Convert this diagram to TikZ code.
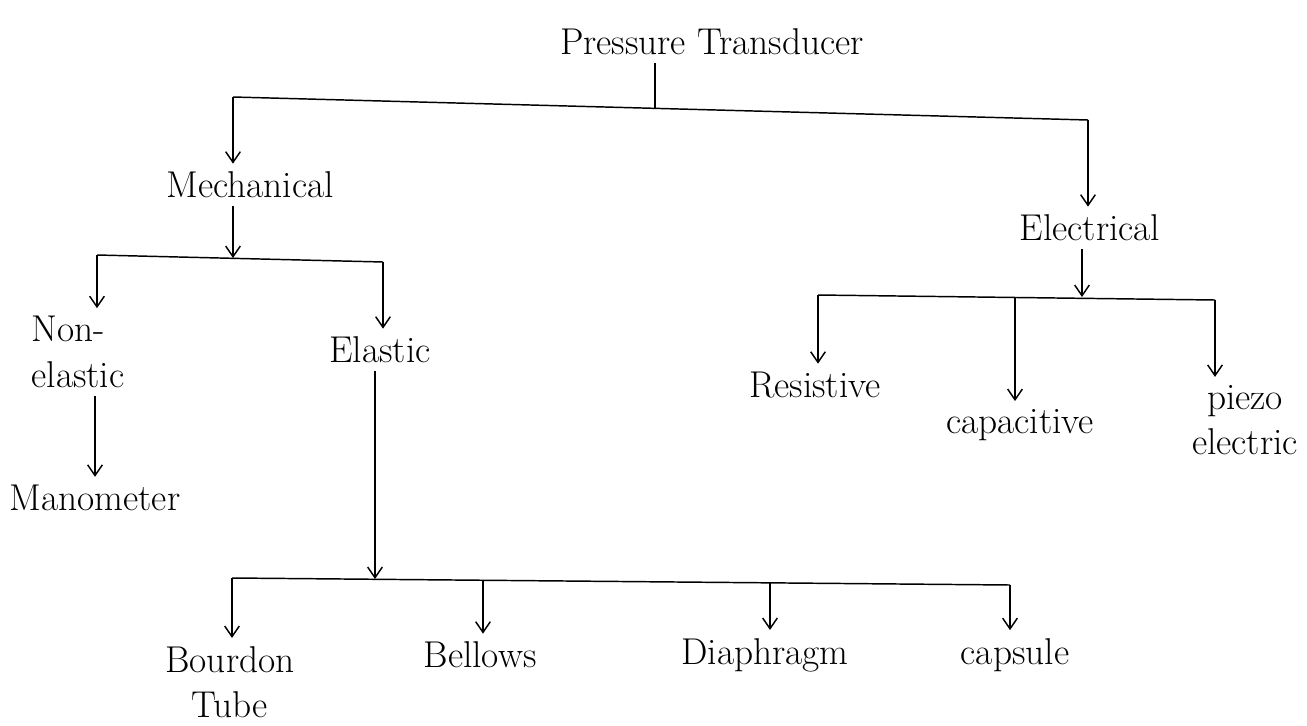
\documentclass[tikz,border=0pt]{standalone}
\usetikzlibrary{arrows.meta}
\begin{document}
\begin{tikzpicture}[x=0.75pt,y=-0.75pt,
  lbl/.style={font=\fontsize{28}{34}\selectfont, inner sep=6pt},
  wire/.style={line width=1.1pt, black},
  arr/.style={wire, -{Straight Barb[length=8pt,width=11pt]}}]
\useasboundingbox[fill=white] (0,0) rectangle (1307,725);
% nodes
\node[lbl] (pt) at (712,42) {Pressure Transducer};
\node[lbl] (mech) at (250,185) {Mechanical};
\node[lbl] (elec) at (1090,228) {Electrical};
\node[lbl, align=left] (nonel) at (78,352) {Non-\\elastic};
\node[lbl] (elas) at (380,350) {Elastic};
\node[lbl] (mano) at (95,498) {Manometer};
\node[lbl, align=center] (bour) at (230,682) {Bourdon\\Tube};
\node[lbl] (bell) at (480,655) {Bellows};
\node[lbl] (diap) at (765,655) {Diaphragm};
\node[lbl] (caps) at (1015,655) {capsule};
\node[lbl] (resi) at (815,385) {Resistive};
\node[lbl] (capa) at (1020,425) {capacitive};
\node[lbl, align=center] (piez) at (1245,420) {piezo\\electric};
% junctions
\coordinate (j0) at (655,108);
\coordinate (jL) at (233,97);
\coordinate (jR) at (1088,120);
\coordinate (jM) at (233,258);
\coordinate (jNL) at (97,255);
\coordinate (jNR) at (383,262);
\coordinate (jE) at (375,579);
\coordinate (jB1) at (232,578);
\coordinate (jB2) at (483,580);
\coordinate (jB3) at (770,583);
\coordinate (jB4) at (1010,585);
\coordinate (jEl) at (1082,297);
\coordinate (jR1) at (818,295);
\coordinate (jR2) at (1015,298);
\coordinate (jR3) at (1215,300);
% connectors
\draw[wire] (pt.south -| j0) -- (j0);
\draw[wire] (jL) -- (jR);
\draw[arr] (jL) -- (jL |- mech.north);
\draw[arr] (jR) -- (jR |- elec.north);
\draw[arr] (mech.south -| jM) -- (jM);
\draw[wire] (jNL) -- (jNR);
\draw[arr] (jNL) -- (jNL |- nonel.north);
\draw[arr] (jNR) -- (jNR |- elas.north);
\draw[arr] (nonel.south -| mano.north) -- (mano.north);
\draw[arr] (elas.south -| jE) -- (jE);
\draw[wire] (jB1) -- (jB4);
\draw[arr] (jB1) -- (jB1 |- bour.north);
\draw[arr] (jB2) -- (jB2 |- bell.north);
\draw[arr] (jB3) -- (jB3 |- diap.north);
\draw[arr] (jB4) -- (jB4 |- caps.north);
\draw[arr] (elec.south -| jEl) -- (jEl);
\draw[wire] (jR1) -- (jR3);
\draw[arr] (jR1) -- (jR1 |- resi.north);
\draw[arr] (jR2) -- (jR2 |- capa.north);
\draw[arr] (jR3) -- (jR3 |- piez.north);
\end{tikzpicture}
\end{document}
